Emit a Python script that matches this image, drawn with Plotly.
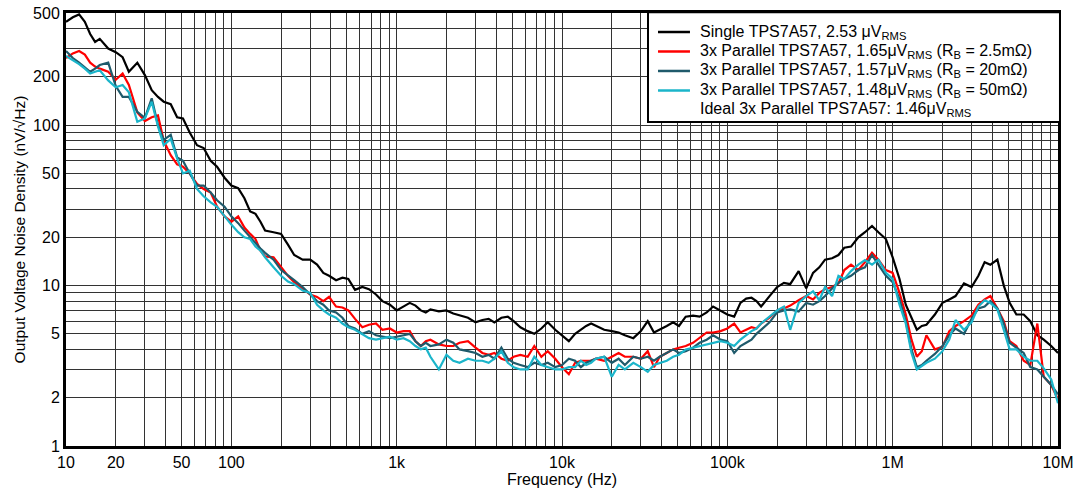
import plotly.graph_objects as go

# Frequency points (Hz), shared by all series
freq_hz = [
    10, 11, 12, 13, 14, 15, 16, 18, 20, 22, 24, 27, 30, 33, 36, 39, 43, 47, 51, 56, 62, 68, 75, 82, 91,
    100, 110, 120, 130, 140, 150, 160, 180, 200, 220, 240, 270, 300, 330, 360, 390, 430, 470, 510, 560, 620, 680, 750, 820, 910,
    1e3, 1.1e3, 1.2e3, 1.3e3, 1.4e3, 1.5e3, 1.6e3, 1.8e3, 2e3, 2.2e3, 2.4e3, 2.7e3, 3e3, 3.3e3, 3.6e3, 3.9e3, 4.3e3, 4.7e3, 5.1e3, 5.6e3, 6.2e3, 6.8e3, 7.5e3, 8.2e3, 9.1e3,
    1e4, 1.1e4, 1.2e4, 1.3e4, 1.4e4, 1.5e4, 1.6e4, 1.8e4, 2e4, 2.2e4, 2.4e4, 2.7e4, 3e4, 3.3e4, 3.6e4, 3.9e4, 4.3e4, 4.7e4, 5.1e4, 5.6e4, 6.2e4, 6.8e4, 7.5e4, 8.2e4, 9.1e4,
    1e5, 1.1e5, 1.2e5, 1.3e5, 1.4e5, 1.5e5, 1.6e5, 1.8e5, 2e5, 2.2e5, 2.4e5, 2.7e5, 3e5, 3.3e5, 3.6e5, 3.9e5, 4.3e5, 4.7e5, 5.1e5, 5.6e5, 6.2e5, 6.8e5, 7.5e5, 8.2e5, 9.1e5,
    1e6, 1.1e6, 1.2e6, 1.3e6, 1.4e6, 1.5e6, 1.6e6, 1.8e6, 2e6, 2.2e6, 2.4e6, 2.7e6, 3e6, 3.3e6, 3.6e6, 3.9e6, 4.3e6, 4.7e6, 5.1e6, 5.6e6, 6.2e6, 6.8e6, 7.5e6, 8.2e6, 9.1e6,
    1e7,
]

# Output voltage noise density (nV/rtHz)
single = [
    440, 470, 490, 440, 370, 330, 345, 300, 285, 265, 215, 245, 205, 165, 150, 140, 135, 112, 110, 90, 75, 72, 60, 55, 47,
    42, 40.5, 35, 29, 28, 25, 22, 21.5, 21, 18, 15.5, 14.5, 14.5, 13.5, 12, 11.5, 10.8, 11.2, 11.0, 9.4, 9.8, 9.5, 8.8, 8.0, 7.6,
    7.0, 7.4, 7.8, 7.5, 7.0, 6.8, 7.1, 6.9, 7.0, 6.7, 6.5, 6.3, 5.9, 6.1, 6.2, 5.9, 6.3, 6.4, 6.0, 5.5, 5.2, 5.0, 5.4, 5.9, 5.3,
    4.9, 4.5, 5.0, 5.3, 5.6, 5.8, 5.6, 5.3, 5.2, 5.1, 4.9, 4.7, 5.2, 6.0, 5.1, 5.3, 5.6, 5.9, 5.6, 6.4, 6.5, 6.4, 6.8, 7.4, 7.0,
    6.6, 6.4, 7.8, 8.3, 8.4, 8.0, 7.4, 8.6, 9.8, 10.4, 10.2, 12.3, 9.6, 12, 13, 14.5, 14.8, 15.5, 17.2, 17.5, 20, 21.5, 23.5, 21.5, 19.5,
    15, 11, 7.6, 6.3, 5.3, 5.6, 5.7, 6.6, 7.8, 8.2, 8.6, 10.3, 9.8, 11.5, 14, 13.5, 14.5, 10, 7.8, 6.6, 6.6, 6.0, 4.9, 4.6, 4.2,
    3.8,
]

par_2m5 = [
    262, 280, 290, 275, 245, 232, 225, 215, 192, 210, 178, 120, 106, 112, 115, 80, 65, 57, 55, 50, 43, 40, 38, 31, 27,
    25, 27, 23, 21, 19.5, 16.5, 15.2, 15.0, 13, 11.5, 10.5, 9.6, 8.8, 8.5, 8.0, 8.5, 7.4, 7.3, 7.0, 6.2, 5.5, 5.7, 5.8, 5.3, 5.4,
    5.1, 5.2, 5.2, 4.5, 4.2, 4.5, 4.6, 4.3, 4.2, 4.2, 4.4, 4.5, 4.1, 3.8, 3.7, 3.8, 3.5, 3.4, 3.6, 3.7, 3.6, 4.2, 3.6, 3.9, 3.5,
    3.1, 2.8, 3.3, 3.4, 3.4, 3.4, 3.5, 3.4, 3.6, 3.8, 3.6, 3.6, 3.5, 3.9, 3.1, 3.6, 3.8, 4.0, 4.1, 4.2, 4.4, 4.7, 5.1, 5.1, 5.2,
    5.4, 5.8, 5.1, 5.3, 5.5, 5.4, 5.8, 6.3, 7.0, 7.2, 7.5, 8.1, 8.6, 8.2, 9.0, 9.5, 9.8, 10.3, 12.5, 13.5, 12.5, 14.0, 16.0, 14.5, 12.5,
    12, 9, 6.6, 4.6, 3.6, 3.9, 4.9, 4.0, 4.15, 5.2, 5.6, 6.0, 6.5, 7.6, 8.2, 8.6, 7.2, 6.0, 4.5, 4.2, 3.4, 3.2, 5.8, 2.7, 2.4,
    1.95,
]

par_20m = [
    290, 262, 245, 230, 215, 225, 237, 245, 175, 150, 150, 121, 111, 147, 100, 81, 87, 63, 60, 50, 42, 42, 38, 34, 31,
    27, 24.5, 22, 20, 18.5, 17, 16, 14.5, 12.5, 11.5, 10.8, 9.8, 8.8, 8.0, 7.6, 7.0, 6.8, 6.3, 5.6, 5.4, 5.0, 5.2, 4.9, 4.8, 4.7,
    4.8, 4.9, 5.0, 4.5, 4.2, 4.4, 4.2, 4.3, 4.6, 4.4, 4.0, 3.9, 3.8, 3.6, 3.7, 3.5, 4.1, 3.5, 3.3, 3.2, 3.1, 3.3, 3.2, 3.3, 3.1,
    3.2, 3.5, 3.4, 3.1, 3.3, 3.4, 3.5, 3.6, 3.3, 3.5, 3.2, 3.6, 3.5, 3.6, 3.4, 3.6, 3.8, 4.0, 3.8, 3.9, 4.1, 4.4, 4.6, 4.9, 4.6,
    4.5, 3.8, 4.2, 4.4, 4.6, 5.0, 5.3, 5.9, 6.8, 7.0, 7.1, 6.9, 7.8, 7.6, 8.0, 8.6, 9.6, 10.4, 11.0, 11.5, 12.5, 13.0, 15.5, 13.5, 11.5,
    10.5, 8.2, 6.0, 4.0, 3.1, 3.2, 3.4, 3.75, 4.2, 4.9, 5.4, 5.0, 6.2, 7.2, 7.4, 8.0, 7.2, 5.8, 4.4, 4.1, 3.8, 3.1, 3.0, 2.7, 2.4,
    2.1,
]

par_50m = [
    270, 255, 240, 225, 210, 215, 220, 190, 172, 178, 160, 105, 110, 140, 98, 75, 82, 62, 50, 52, 40, 36, 33, 31, 27,
    24, 21.5, 20, 19.5, 17.5, 16.5, 15, 13, 11.5, 10.6, 10.2, 9.3, 9.0, 7.6, 7.0, 6.6, 6.3, 5.8, 5.5, 5.3, 5.0, 4.7, 4.6, 4.7, 4.8,
    4.6, 4.7, 4.5, 4.2, 4.0, 4.1, 3.6, 3.0, 3.7, 3.4, 3.3, 3.5, 3.4, 3.4, 3.3, 3.5, 3.9, 3.3, 3.1, 3.0, 3.0, 3.6, 3.2, 3.1, 3.0,
    3.0, 3.1, 3.1, 3.4, 3.2, 3.3, 3.5, 3.6, 2.7, 3.2, 3.0, 3.3, 3.1, 2.9, 3.2, 3.3, 3.4, 3.6, 3.7, 4.0, 4.1, 4.2, 4.3, 4.4, 4.5,
    4.4, 4.2, 4.6, 4.9, 5.2, 5.4, 5.8, 6.4, 7.0, 7.4, 5.3, 7.8, 8.6, 9.2, 8.1, 9.8, 8.6, 11.5, 11.0, 12.3, 13.5, 14.4, 13.5, 14.5, 12,
    11, 7.6, 5.8, 3.8, 3.0, 3.15, 3.3, 3.5, 3.9, 4.6, 6.1, 5.3, 5.9, 7.4, 8.1, 7.8, 7.1, 5.3, 4.0, 4.0, 3.6, 3.4, 3.4, 3.05, 2.6,
    1.85,
]

series_names = [
    "Single TPS7A57, 2.53 μV<sub>RMS</sub>",
    "3x Parallel TPS7A57, 1.65μV<sub>RMS</sub> (R<sub>B</sub> = 2.5mΩ)",
    "3x Parallel TPS7A57, 1.57μV<sub>RMS</sub> (R<sub>B</sub> = 20mΩ)",
    "3x Parallel TPS7A57, 1.48μV<sub>RMS</sub> (R<sub>B</sub> = 50mΩ)",
]
ideal_label = "Ideal 3x Parallel TPS7A57: 1.46μV<sub>RMS</sub>"
series_colors = ["#000000", "#ff0000", "#1f5a6b", "#1bb5ca"]
series_values = [single, par_2m5, par_20m, par_50m]

x_tick_labels = {10: "10", 20: "20", 50: "50", 100: "100", 1000: "1k", 10000: "10k",
                 100000: "100k", 1000000: "1M", 10000000: "10M"}
y_tick_labels = {1: "1", 2: "2", 5: "5", 10: "10", 20: "20", 50: "50", 100: "100", 200: "200", 500: "500"}

font_family = "Liberation Sans, Arial, sans-serif"

fig = go.Figure()
for name, vals, col in zip(series_names, series_values, series_colors):
    fig.add_trace(go.Scatter(x=freq_hz, y=vals, mode="lines", name=name,
                             line=dict(color=col, width=2.2), showlegend=False))

# grid at every 1..9 x decade
xgrid = []
for e in range(1, 7):
    for m in range(1, 10):
        xgrid.append(m * 10 ** e)
xgrid.append(10 ** 7)
xtext = [x_tick_labels.get(v, "") for v in xgrid]

ygrid = []
for e in range(0, 3):
    for m in range(1, 10):
        v = m * 10 ** e
        if v <= 500:
            ygrid.append(v)
ytext = [y_tick_labels.get(v, "") for v in ygrid]

# Legend box (paper coordinates), drawn as shapes + text annotations
shapes = [dict(type="rect", xref="paper", yref="paper", x0=0.5867, x1=1.002, y0=0.7483, y1=1.002,
               fillcolor="white", line=dict(color="black", width=2), layer="above")]
annotations = []
row_y = [0.9561, 0.9111, 0.8661, 0.8210, 0.7760]
labels = series_names + [ideal_label]
colors = series_colors + [None]
for yy, lab, col in zip(row_y, labels, colors):
    if col is not None:
        shapes.append(dict(type="line", xref="paper", yref="paper", x0=0.5968, x1=0.629, y0=yy, y1=yy,
                           line=dict(color=col, width=2.5), layer="above"))
    annotations.append(dict(xref="paper", yref="paper", x=0.6371, y=yy, xanchor="left", yanchor="middle",
                            text=lab, showarrow=False,
                            font=dict(family=font_family, size=16, color="black")))

fig.update_layout(
    width=1078, height=495,
    margin=dict(l=66, r=20, t=13, b=49),
    paper_bgcolor="white", plot_bgcolor="white",
    font=dict(family=font_family, size=16, color="black"),
    showlegend=False,
    shapes=shapes,
    annotations=annotations,
    xaxis=dict(type="log", range=[1, 7], tickvals=xgrid, ticktext=xtext,
               showgrid=True, gridcolor="#333333", gridwidth=1.4,
               showline=True, linecolor="black", linewidth=3, mirror=True,
               ticks="", ticklen=0, automargin=False,
               title=dict(text="Frequency (Hz)", standoff=2,
                          font=dict(family=font_family, size=16)),
               tickfont=dict(family=font_family, size=16), zeroline=False),
    yaxis=dict(type="log", range=[0, 2.69897], tickvals=ygrid, ticktext=ytext,
               showgrid=True, gridcolor="#333333", gridwidth=1.4,
               showline=True, linecolor="black", linewidth=3, mirror=True,
               ticks="", ticklen=0, automargin=False,
               title=dict(text="Output Voltage Noise Density (nV/√Hz)", standoff=4,
                          font=dict(family=font_family, size=15.5)),
               tickfont=dict(family=font_family, size=16), zeroline=False),
)

fig.write_html("out.html")
